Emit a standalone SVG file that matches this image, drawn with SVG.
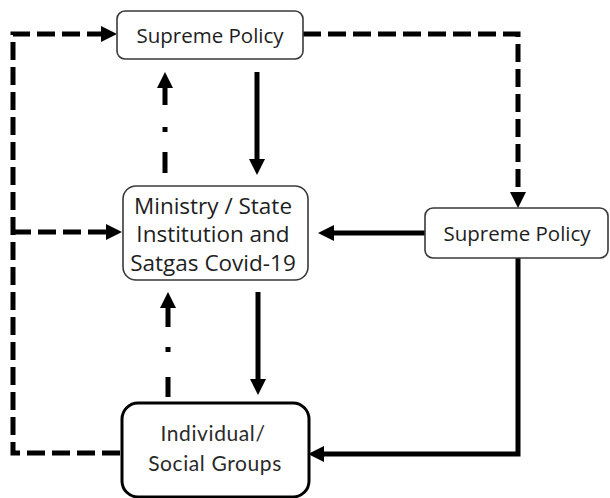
<svg xmlns="http://www.w3.org/2000/svg" width="610" height="498" viewBox="0 0 610 498">
  <style>
    .box { fill: #ffffff; stroke: #3a3a3a; stroke-width: 1.6; }
    .box-bold { fill: #ffffff; stroke: #000000; stroke-width: 3; }
    .label { font-family: "Open Sans", "Liberation Sans", sans-serif; font-size: 20.5px; fill: #1e1e1e; text-anchor: middle; }
    .label-mid { font-size: 22.5px; }
    .label-round { font-family: "Lato", "Liberation Sans", sans-serif; font-size: 21px; letter-spacing: 0.6px; fill: #2a2a2a; text-anchor: middle; }
    .solid { fill: none; stroke: #000000; stroke-width: 5; }
    .dashed { fill: none; stroke: #000000; stroke-width: 5; stroke-dasharray: 18 7; }
  </style>
  <defs>
    <marker id="head" viewBox="0 -8 16 16" refX="0" refY="0" markerWidth="16" markerHeight="16" markerUnits="userSpaceOnUse" orient="auto">
      <path d="M0,-8 L16,0 L0,8 Z" fill="#000000"/>
    </marker>
  </defs>

  <rect width="610" height="498" fill="#ffffff"/>

  <!-- connectors -->
  <g id="connectors">
    <!-- feedback loop on the left -->
    <path class="dashed" d="M120,453 L13,453 L13,34 L101,34" marker-end="url(#head)"/>
    <path class="dashed" d="M13,232 L106,232" marker-end="url(#head)"/>
    <!-- top policy to right policy -->
    <path class="dashed" d="M303,34 L518,34 L518,192" marker-end="url(#head)"/>
    <!-- right policy to ministry -->
    <path class="solid" d="M425,233 L334,233" marker-end="url(#head)"/>
    <!-- right policy to individuals -->
    <path class="solid" d="M518,258 L518,454 L324,454" marker-end="url(#head)"/>
    <!-- top policy down to ministry -->
    <path class="solid" d="M257,72 L257,159" marker-end="url(#head)"/>
    <!-- ministry up to top policy (dash-dot) -->
    <path class="solid" d="M165,173 L165,88" stroke-dasharray="21 20 5 22 17" marker-end="url(#head)"/>
    <!-- ministry down to individuals -->
    <path class="solid" d="M258,292 L258,379" marker-end="url(#head)"/>
    <!-- individuals up to ministry (dash-dot) -->
    <path class="solid" d="M168,397 L168,308" stroke-dasharray="20 25 5 20 19" marker-end="url(#head)"/>
  </g>

  <g id="supreme-policy-top">
    <rect class="box" x="117" y="11" width="186" height="48" rx="8"/>
    <text class="label" x="210" y="43">Supreme Policy</text>
  </g>

  <g id="ministry">
    <rect class="box" x="123" y="186" width="185" height="94" rx="13"/>
    <text class="label label-mid" x="213" y="214">Ministry / State</text>
    <text class="label label-mid" x="213" y="242">Institution and</text>
    <text class="label label-mid" x="213" y="271">Satgas Covid-19</text>
  </g>

  <g id="supreme-policy-right">
    <rect class="box" x="425" y="208" width="183" height="50" rx="8"/>
    <text class="label" x="517" y="241">Supreme Policy</text>
  </g>

  <g id="individual-groups">
    <rect class="box-bold" x="122" y="403" width="187" height="94" rx="16"/>
    <text class="label-round" x="213" y="441">Individual/</text>
    <text class="label-round" x="215" y="471">Social Groups</text>
  </g>
</svg>
